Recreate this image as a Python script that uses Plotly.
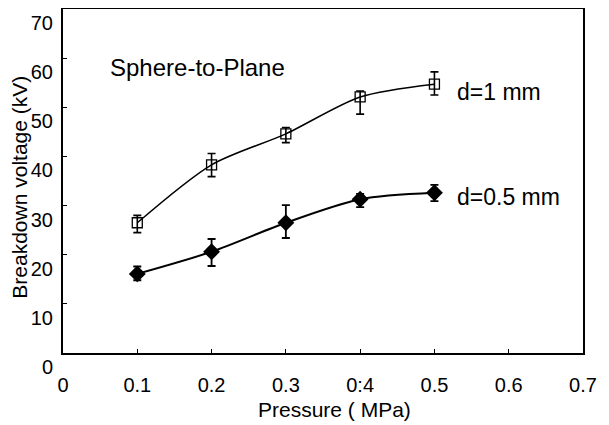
import plotly.graph_objects as go

pressure = [0.1, 0.2, 0.3, 0.4, 0.5]
v_d1 = [26.5, 38.3, 44.6, 52.1, 54.7]
v_d1_plus = [1.5, 2.3, 1.3, 1.2, 2.5]
v_d1_minus = [2.0, 2.4, 1.8, 3.5, 2.2]
v_d05 = [16.1, 20.6, 26.5, 31.3, 32.6]
v_d05_plus = [1.5, 2.6, 3.6, 1.1, 1.6]
v_d05_minus = [1.3, 2.9, 3.1, 1.6, 1.7]

x_ticks = [0, 0.1, 0.2, 0.3, 0.4, 0.5, 0.6, 0.7]
x_ticktext = ["0", "0.1", "0.2", "0.3", "0:4", "0.5", "0.6", "0.7"]
y_ticks = [0, 10, 20, 30, 40, 50, 60, 70]

font = "Liberation Sans, Arial, sans-serif"

fig = go.Figure()
fig.add_trace(go.Scatter(
    x=pressure, y=v_d1, mode="lines+markers",
    line=dict(color="black", width=1.5, shape="spline", smoothing=0.8),
    marker=dict(symbol="square-open", size=10, color="black", line=dict(width=1.3)),
    error_y=dict(type="data", symmetric=False, array=v_d1_plus, arrayminus=v_d1_minus,
                 color="black", thickness=1.6, width=4),
    showlegend=False,
))
fig.add_trace(go.Scatter(
    x=pressure, y=v_d05, mode="lines+markers",
    line=dict(color="black", width=2, shape="spline", smoothing=0.8),
    marker=dict(symbol="diamond", size=13, color="black"),
    error_y=dict(type="data", symmetric=False, array=v_d05_plus, arrayminus=v_d05_minus,
                 color="black", thickness=1.8, width=4),
    showlegend=False,
))

fig.add_annotation(x=0.0606, y=58.0, text="Sphere-to-Plane", showarrow=False,
                   xanchor="left", yanchor="middle", font=dict(size=24, color="black", family=font))
fig.add_annotation(x=0.528, y=53.1, text="d=1 mm", showarrow=False,
                   xanchor="left", yanchor="middle", font=dict(size=23, color="black", family=font))
fig.add_annotation(x=0.528, y=31.7, text="d=0.5 mm", showarrow=False,
                   xanchor="left", yanchor="middle", font=dict(size=23, color="black", family=font))

# axis titles placed as annotations to match the reference's offsets
fig.add_annotation(xref="paper", yref="paper", x=0.523, y=-0.163, text="Pressure ( MPa)",
                   showarrow=False, xanchor="center", yanchor="middle",
                   font=dict(size=21, color="black", family=font))
fig.add_annotation(xref="paper", yref="paper", x=-0.083, y=0.483, text="Breakdown voltage (kV)",
                   textangle=-90, showarrow=False, xanchor="center", yanchor="middle",
                   font=dict(size=21, color="black", family=font))

fig.update_layout(
    width=601, height=417,
    margin=dict(l=55, r=18, t=1, b=64),
    paper_bgcolor="white", plot_bgcolor="white",
    font=dict(family=font, size=20, color="black"),
)
fig.update_layout(margin=dict(l=55, r=26, t=1, b=72))
fig.update_xaxes(
    range=[0, 0.7], tickvals=x_ticks, ticktext=x_ticktext,
    showgrid=False, zeroline=False, automargin=False,
    showline=True, linecolor="black", linewidth=2, mirror=True,
    ticks="inside", ticklen=4, tickcolor="black", tickwidth=1,
    ticklabelstandoff=13, tickfont=dict(size=20),
)
fig.update_yaxes(
    range=[0, 70], tickvals=y_ticks,
    showgrid=False, zeroline=False, automargin=False,
    showline=True, linecolor="black", linewidth=2, mirror=True,
    ticks="inside", ticklen=4, tickcolor="black", tickwidth=1,
    ticklabelshift=14, ticklabelstandoff=4, tickfont=dict(size=20),
)

fig.write_html("out.html")
